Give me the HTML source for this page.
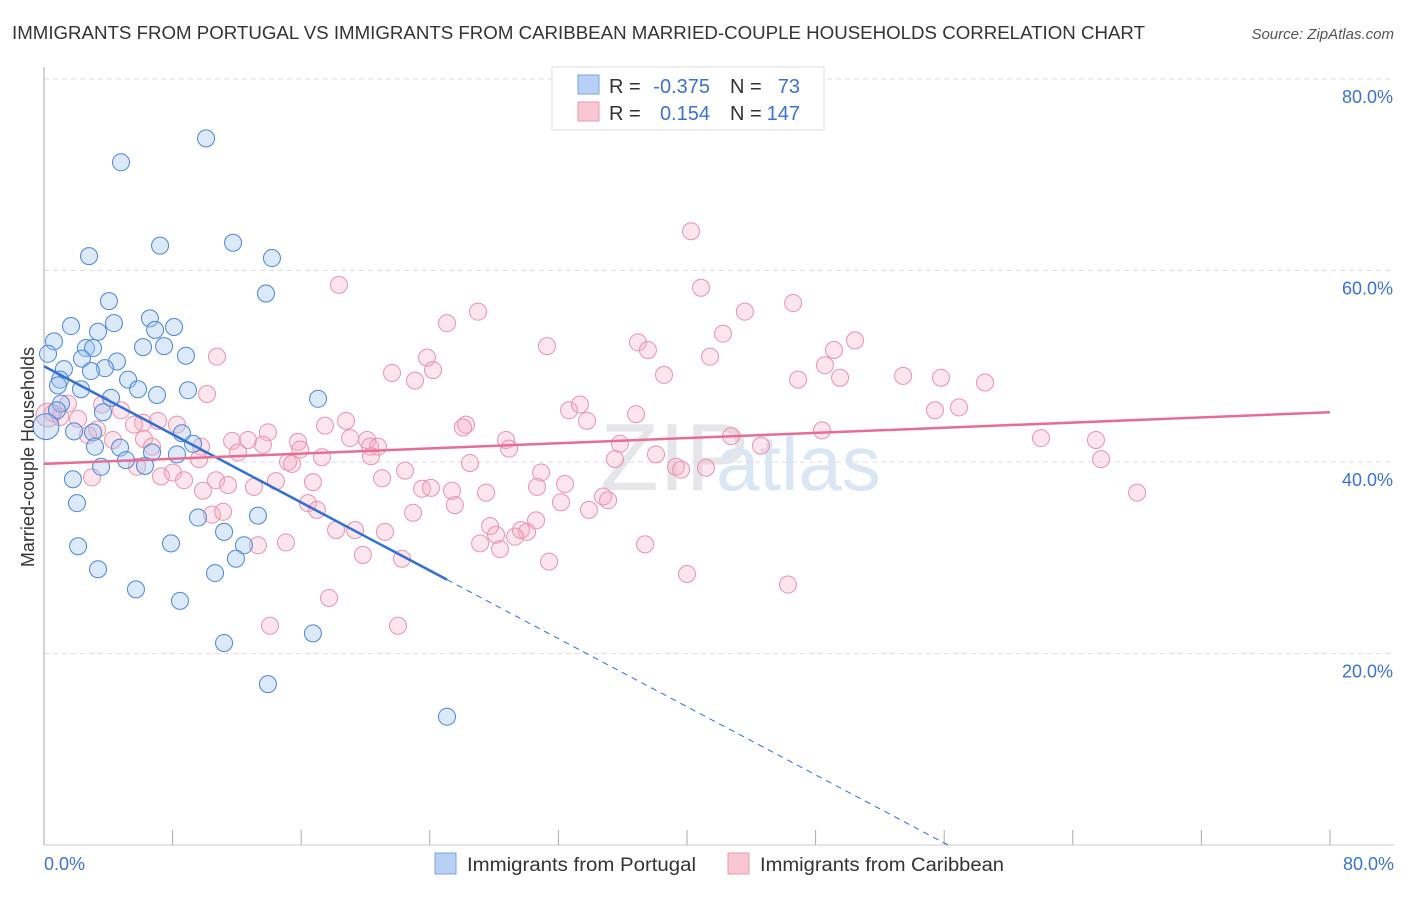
<!DOCTYPE html>
<html><head><meta charset="utf-8"><style>
body{margin:0;background:#fff;font-family:"Liberation Sans",sans-serif;}
svg text{font-family:"Liberation Sans",sans-serif;}
</style></head><body>
<svg width="1406" height="892" xmlns="http://www.w3.org/2000/svg">
<text x="12" y="39" font-size="18" fill="#333" textLength="1133" lengthAdjust="spacingAndGlyphs">IMMIGRANTS FROM PORTUGAL VS IMMIGRANTS FROM CARIBBEAN MARRIED-COUPLE HOUSEHOLDS CORRELATION CHART</text>
<text x="1394" y="39" font-size="15" fill="#555" text-anchor="end" font-style="italic">Source: ZipAtlas.com</text>
<text x="600" y="490" font-size="96" fill="#e6e6ea" font-family="Liberation Serif">ZIP</text>
<text x="716" y="490" font-size="78" fill="#dbe6f5">atlas</text>
<g id="grid"></g>
<g id="axes"></g>
<g id="pts"></g>
<g id="lines"></g>
<text transform="translate(34,457) rotate(-90)" font-size="18" fill="#333" text-anchor="middle">Married-couple Households</text>
<g>
<rect x="552" y="67" width="272" height="63" fill="#fff" stroke="#ddd"/>
<rect x="578" y="75" width="21" height="19" fill="#b7d0f3" stroke="#7aa6e0"/>
<rect x="578" y="102" width="21" height="19" fill="#f9c6d3" stroke="#eb98b0"/>
<text x="609" y="93" font-size="20" fill="#333">R = </text><text x="710" y="93" font-size="20" fill="#3a73d0" text-anchor="end">-0.375</text>
<text x="730" y="93" font-size="20" fill="#333">N = </text><text x="800" y="93" font-size="20" fill="#3a73d0" text-anchor="end">73</text>
<text x="609" y="120" font-size="20" fill="#333">R = </text><text x="710" y="120" font-size="20" fill="#3a73d0" text-anchor="end">0.154</text>
<text x="730" y="120" font-size="20" fill="#333">N = </text><text x="800" y="120" font-size="20" fill="#3a73d0" text-anchor="end">147</text>
</g>
<g>
<rect x="435" y="853" width="21" height="21" fill="#b7d0f3" stroke="#7aa6e0"/>
<text x="467" y="871" font-size="19" fill="#333" textLength="229" lengthAdjust="spacingAndGlyphs">Immigrants from Portugal</text></g>
<g>
<rect x="728" y="853" width="21" height="21" fill="#f9c6d3" stroke="#eb98b0"/>
<text x="760" y="871" font-size="19" fill="#333" textLength="244" lengthAdjust="spacingAndGlyphs">Immigrants from Caribbean</text></g>
</svg>
<script>
const yTicks=[20,40,60,80];
const yTickLabels=["20.0%","40.0%","60.0%","80.0%"];
const xTickLabels=["0.0%","80.0%"];
const blueX=[10.08,4.79,7.22,11.76,2.8,14.18,13.81,4.04,1.68,6.59,4.35,3.36,6.91,8.09,0.62,2.61,3.05,6.16,7.47,8.83,0.25,2.36,4.54,3.79,1.24,2.92,1.0,5.23,0.87,2.3,7.03,8.96,5.85,17.05,4.17,1.06,3.67,0.81,1.87,3.05,8.58,4.73,3.17,9.27,6.72,8.27,5.1,3.55,6.28,1.8,2.05,9.58,13.31,11.2,7.9,2.12,12.44,3.36,11.94,10.64,5.72,8.46,16.73,11.2,13.93,25.07,0.12];
const blueY=[73.8,71.3,62.6,62.9,61.5,61.3,57.6,56.8,54.2,55.0,54.5,53.6,53.8,54.1,52.6,51.9,51.9,52.0,52.1,51.1,51.3,50.8,50.5,49.8,49.7,49.5,48.6,48.6,48.0,47.6,47.0,47.5,47.6,46.6,46.7,46.1,45.2,45.4,43.2,43.1,43.0,41.5,41.6,41.9,41.0,40.8,40.2,39.5,39.6,38.2,35.7,34.2,34.4,32.7,31.5,31.2,31.3,28.8,29.9,28.4,26.7,25.5,22.1,21.1,16.8,13.4,43.7];
const pinkX=[40.25,40.87,18.35,46.6,27.0,43.6,25.07,42.24,50.45,31.29,36.95,37.57,49.14,10.76,23.83,41.43,48.58,24.2,21.65,38.57,53.44,55.8,23.08,46.91,49.52,58.54,10.14,32.66,33.34,55.43,56.92,36.83,33.78,18.79,26.25,26.06,48.4,0.56,1.49,3.61,4.79,2.12,1.0,6.16,7.09,8.27,13.93,17.48,3.3,5.6,2.74,4.29,6.22,11.7,12.69,13.62,19.04,20.1,28.74,42.74,62.02,65.44,6.72,9.77,15.8,20.28,20.78,28.93,35.83,44.6,12.07,15.93,17.29,9.64,15.18,15.43,20.34,26.5,35.52,38.07,65.76,5.79,22.46,30.92,39.31,39.63,41.18,2.99,7.28,8.02,8.71,10.7,11.45,13.06,14.43,16.73,21.03,30.67,32.41,9.89,23.52,24.07,27.5,25.38,34.78,35.09,68.0,16.42,25.56,32.16,16.98,22.96,33.9,10.45,11.14,30.61,27.75,18.17,19.35,21.21,29.67,30.05,28.12,29.3,27.13,15.05,13.31,37.39,28.37,19.84,22.27,31.42,40.0,46.28,17.73,14.06,22.02,0.25];
const pinkY=[64.1,58.2,58.5,56.6,55.7,55.7,54.5,53.4,52.7,52.1,52.5,51.7,51.7,51.0,50.9,51.0,50.1,49.6,49.3,49.1,49.0,48.8,48.5,48.6,48.8,48.3,47.1,45.4,46.0,45.4,45.7,45.0,44.3,44.3,43.9,43.6,43.3,45.1,46.1,46.0,45.4,44.5,44.7,44.1,44.3,43.9,43.1,43.8,43.4,43.9,42.8,42.3,42.4,42.2,42.3,41.8,42.5,42.3,42.3,42.7,42.5,42.3,41.6,41.6,42.1,41.6,41.6,41.4,41.9,41.7,41.0,41.3,40.5,40.3,40.0,39.8,40.6,39.9,40.3,40.8,40.3,39.5,39.1,38.9,39.5,39.2,39.4,38.4,38.5,38.9,38.1,38.1,37.6,37.4,38.0,37.9,38.3,37.4,37.7,37.0,37.2,37.3,36.8,37.0,36.4,36.0,36.8,35.7,35.5,35.8,35.0,34.7,35.0,34.5,34.8,33.9,33.3,32.9,32.9,32.7,32.9,32.7,32.4,32.2,31.5,31.6,31.3,31.4,30.9,30.3,29.9,29.6,28.3,27.2,25.8,22.9,22.9,44.9];
const blueTrend=[50.0,-0.889];
const pinkTrend=[39.8,0.0675];
const NS="http://www.w3.org/2000/svg";
const X=v=>44+v/80*1286, Y=v=>845-v/80*766;
function mk(t,a,p){const e=document.createElementNS(NS,t);for(const k in a)e.setAttribute(k,a[k]);p.appendChild(e);return e;}
const grid=document.getElementById('grid'),axes=document.getElementById('axes');
yTicks.forEach((t,i)=>{
 const l=mk('line',{x1:44,x2:1394,y1:Y(t),y2:Y(t),stroke:'#ddd','stroke-dasharray':'5,4'},grid);
 
 
 const tx=mk('text',{x:1393,y:Y(t)+24,'font-size':18,fill:'#3a73d0','text-anchor':'end'},axes);
 tx.textContent=yTickLabels[i];
 
 
});
const ax=mk('line',{x1:44,x2:44,y1:67,y2:845,stroke:'#aaa'},axes);


const bx=mk('line',{x1:44,x2:1394,y1:845,y2:845,stroke:'#ccc'},axes);


for(let i=1;i<=10;i++){const t=mk('line',{x1:X(i*8),x2:X(i*8),y1:830,y2:845,stroke:'#aaa'},axes);
 
 }
[[0,'start',44],[80,'end',1394]].forEach((d,i)=>{const t=mk('text',{x:d[2],y:870,'font-size':18,fill:'#3a73d0','text-anchor':d[1]},axes);t.textContent=xTickLabels[i];
 
 });
const pts=document.getElementById('pts');
pinkX.forEach((x,i)=>{const c=mk('circle',{cx:X(x),cy:Y(pinkY[i]),r:i==pinkX.length-1?12:8.5,fill:'rgba(246,170,192,0.3)',stroke:'#e993ad','stroke-width':1},pts);
 
 });
blueX.forEach((x,i)=>{const c=mk('circle',{cx:X(x),cy:Y(blueY[i]),r:i==blueX.length-1?13:8.5,fill:'rgba(160,196,240,0.38)',stroke:'#4a86d8','stroke-width':1},pts);
 
 });
const lines=document.getElementById('lines');
const bEnd=25.07, bZero=-blueTrend[0]/blueTrend[1];
const l1=mk('line',{x1:X(0),y1:Y(blueTrend[0]),x2:X(bEnd),y2:Y(blueTrend[0]+blueTrend[1]*bEnd),stroke:'#2f6fd6','stroke-width':2.5},lines);


const l2=mk('line',{x1:X(bEnd),y1:Y(blueTrend[0]+blueTrend[1]*bEnd),x2:X(bZero),y2:Y(0),stroke:'#2f6fd6','stroke-width':1,'stroke-dasharray':'6,5'},lines);


const l3=mk('line',{x1:X(0),y1:Y(pinkTrend[0]),x2:X(80),y2:Y(pinkTrend[0]+pinkTrend[1]*80),stroke:'#e76d95','stroke-width':2.5},lines);


</script>
</body></html>
